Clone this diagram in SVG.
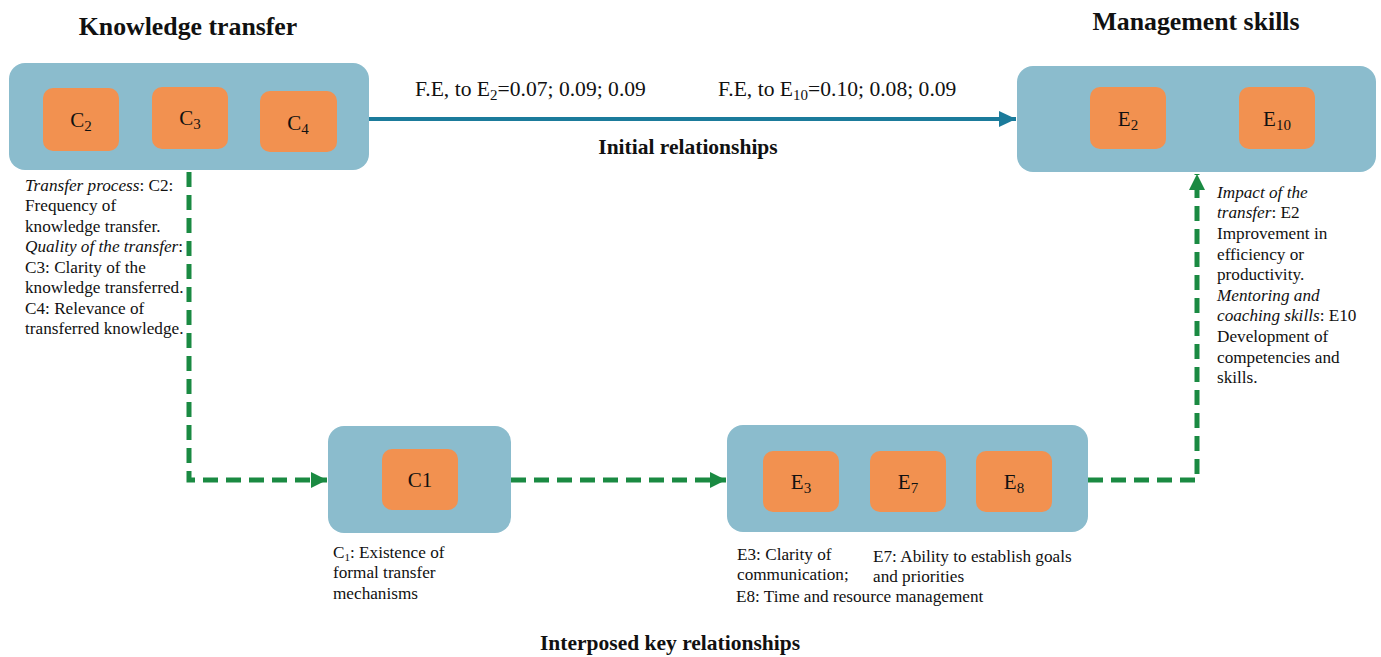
<svg xmlns="http://www.w3.org/2000/svg" width="1381" height="657" viewBox="0 0 1381 657">
<defs>
<style>
text{font-family:"Liberation Serif","Times New Roman",serif;fill:#111}
.title{font-size:25.8px;font-weight:bold}
.sub{font-size:21.5px;font-weight:bold}
.lab{font-size:21.6px}
.in{font-size:21px;text-anchor:middle}
.desc{font-size:17.2px}
.grp{fill:#8bbccd}
.item{fill:#f29150}
.dash{fill:none;stroke:#1a8a42;stroke-width:5;stroke-dasharray:15 8}
.solid{fill:none;stroke:#1b7b9b;stroke-width:4}
</style>
<marker id="ga" markerUnits="userSpaceOnUse" markerWidth="18" markerHeight="18" refX="16" refY="9" orient="auto">
<path d="M0,1 L16,9 L0,17 Z" fill="#1a8a42"/>
</marker>
<marker id="ba" markerUnits="userSpaceOnUse" markerWidth="18" markerHeight="18" refX="17" refY="9" orient="auto">
<path d="M0,1 L17,9 L0,17 Z" fill="#1b7b9b"/>
</marker>
</defs>
<rect width="1381" height="657" fill="#fff"/>

<g id="connectors">
<line class="solid" x1="369" y1="119" x2="1016" y2="119" marker-end="url(#ba)"/>
<path class="dash" d="M189,172 V480 H327" marker-end="url(#ga)"/>
<path class="dash" d="M511,480 H726" marker-end="url(#ga)"/>
<path class="dash" d="M1088,480 H1197 V174" marker-end="url(#ga)"/>
</g>

<g id="knowledge-transfer">
<text class="title" x="188" y="35" text-anchor="middle">Knowledge transfer</text>
<rect class="grp" x="9" y="63" width="360" height="107" rx="16"/>
<rect class="item" x="43" y="88" width="76" height="63" rx="10"/>
<text class="in" x="81" y="127">C<tspan font-size="15" dy="4">2</tspan></text>
<rect class="item" x="152" y="87" width="76" height="62" rx="10"/>
<text class="in" x="190" y="125">C<tspan font-size="15" dy="4">3</tspan></text>
<rect class="item" x="260" y="91" width="77" height="61" rx="10"/>
<text class="in" x="298" y="130">C<tspan font-size="15" dy="4">4</tspan></text>
<text class="desc" x="25" y="191"><tspan font-style="italic">Transfer process</tspan>: C2:</text>
<text class="desc" x="25" y="211">Frequency of</text>
<text class="desc" x="25" y="232">knowledge transfer.</text>
<text class="desc" x="25" y="252"><tspan font-style="italic">Quality of the transfer</tspan>:</text>
<text class="desc" x="25" y="273">C3: Clarity of the</text>
<text class="desc" x="25" y="293">knowledge transferred.</text>
<text class="desc" x="25" y="314">C4: Relevance of</text>
<text class="desc" x="25" y="334">transferred knowledge.</text>
</g>

<g id="management-skills">
<text class="title" x="1196" y="30" text-anchor="middle">Management skills</text>
<rect class="grp" x="1017" y="66" width="359" height="106" rx="16"/>
<rect class="item" x="1090" y="87" width="76" height="62" rx="10"/>
<text class="in" x="1128" y="126">E<tspan font-size="15" dy="4">2</tspan></text>
<rect class="item" x="1239" y="87" width="76" height="62" rx="10"/>
<text class="in" x="1277" y="126">E<tspan font-size="15" dy="4">10</tspan></text>
<text class="desc" x="1217" y="198" font-style="italic">Impact of the</text>
<text class="desc" x="1217" y="218"><tspan font-style="italic">transfer</tspan>: E2</text>
<text class="desc" x="1217" y="239">Improvement in</text>
<text class="desc" x="1217" y="260">efficiency or</text>
<text class="desc" x="1217" y="280">productivity.</text>
<text class="desc" x="1217" y="301" font-style="italic">Mentoring and</text>
<text class="desc" x="1217" y="321"><tspan font-style="italic">coaching skills</tspan>: E10</text>
<text class="desc" x="1217" y="342">Development of</text>
<text class="desc" x="1217" y="363">competencies and</text>
<text class="desc" x="1217" y="383">skills.</text>
</g>

<g id="c1">
<rect class="grp" x="328" y="426" width="183" height="107" rx="16"/>
<rect class="item" x="382" y="449" width="76" height="61" rx="10"/>
<text class="in" x="420" y="487">C1</text>
<text class="desc" x="333" y="558">C<tspan font-size="11" dy="3">1</tspan><tspan dy="-3">: Existence of</tspan></text>
<text class="desc" x="333" y="578">formal transfer</text>
<text class="desc" x="333" y="599">mechanisms</text>
</g>

<g id="e-group">
<rect class="grp" x="727" y="425" width="361" height="107" rx="16"/>
<rect class="item" x="763" y="451" width="76" height="61" rx="10"/>
<text class="in" x="801" y="489">E<tspan font-size="15" dy="4">3</tspan></text>
<rect class="item" x="870" y="451" width="76" height="61" rx="10"/>
<text class="in" x="908" y="489">E<tspan font-size="15" dy="4">7</tspan></text>
<rect class="item" x="976" y="451" width="76" height="61" rx="10"/>
<text class="in" x="1014" y="489">E<tspan font-size="15" dy="4">8</tspan></text>
<text class="desc" x="737" y="560">E3: Clarity of</text>
<text class="desc" x="737" y="580">communication;</text>
<text class="desc" x="873" y="562">E7: Ability to establish goals</text>
<text class="desc" x="873" y="582">and priorities</text>
<text class="desc" x="736" y="602">E8: Time and resource management</text>
</g>

<g id="labels">
<text class="lab" x="415" y="96">F.E, to E<tspan font-size="15" dy="4">2</tspan><tspan dy="-4">=0.07; 0.09; 0.09</tspan></text>
<text class="lab" x="718" y="96">F.E, to E<tspan font-size="15" dy="4">10</tspan><tspan dy="-4">=0.10; 0.08; 0.09</tspan></text>
<text class="sub" x="688" y="154" text-anchor="middle">Initial relationships</text>
<text class="sub" x="670" y="650" text-anchor="middle">Interposed key relationships</text>
</g>
</svg>
